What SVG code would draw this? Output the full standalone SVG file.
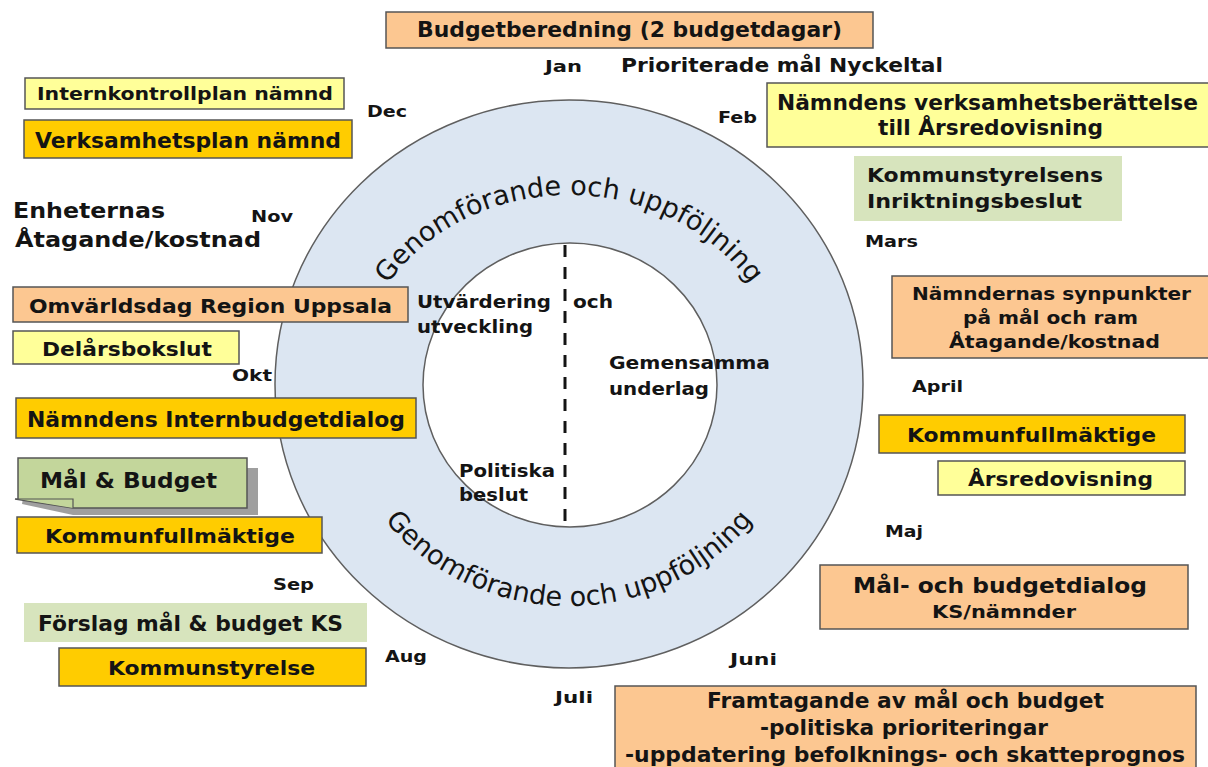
<svg xmlns="http://www.w3.org/2000/svg" width="1208" height="767" viewBox="0 0 1208 767">
<style>
  .t{font-family:"DejaVu Sans","Verdana",sans-serif;font-weight:bold;fill:#141414}
  .ring{font-family:"DejaVu Sans","Verdana",sans-serif;font-weight:normal;fill:#141414;font-size:27px}
  .box{stroke:#555;stroke-width:1.5}
  .or{fill:#FCC791}
  .gd{fill:#FFCC00}
  .ly{fill:#FFFF99}
  .gr{fill:#D7E4BD}
  .m{font-size:16px}
</style>
<defs>
  <path id="arcTop" d="M353,390 A216,195 0 0 1 785,390"/>
  <path id="arcBot" d="M334,380 A235,226 0 0 0 804,380"/>
</defs>
<rect width="1208" height="767" fill="#fff"/>

<g id="wheel">
  <ellipse cx="569" cy="384" rx="294" ry="284" fill="#DCE6F2" stroke="#5f5f5f" stroke-width="1.5"/>
  <ellipse cx="570" cy="385" rx="147" ry="142" fill="#fff" stroke="#5f5f5f" stroke-width="1.5"/>
  <line x1="565" y1="245" x2="565" y2="527" stroke="#141414" stroke-width="3" stroke-dasharray="12 10"/>
  <text class="ring"><textPath href="#arcTop" startOffset="50%" text-anchor="middle">Genomförande och uppföljning</textPath></text>
  <text class="ring"><textPath href="#arcBot" startOffset="50%" text-anchor="middle">Genomförande och uppföljning</textPath></text>
  <g class="t" font-size="17">
    <text x="417" y="308" textLength="134" lengthAdjust="spacingAndGlyphs">Utvärdering</text>
    <text x="417" y="333" textLength="116" lengthAdjust="spacingAndGlyphs">utveckling</text>
    <text x="573" y="308" textLength="40" lengthAdjust="spacingAndGlyphs">och</text>
    <text x="609" y="369" textLength="161" lengthAdjust="spacingAndGlyphs">Gemensamma</text>
    <text x="609" y="395" textLength="100" lengthAdjust="spacingAndGlyphs">underlag</text>
    <text x="459" y="477" textLength="96" lengthAdjust="spacingAndGlyphs">Politiska</text>
    <text x="459" y="501" textLength="69" lengthAdjust="spacingAndGlyphs">beslut</text>
  </g>
</g>

<g id="months" class="t m">
  <text x="545" y="72" textLength="37" lengthAdjust="spacingAndGlyphs">Jan</text>
  <text x="718" y="123" textLength="39" lengthAdjust="spacingAndGlyphs">Feb</text>
  <text x="865" y="247" textLength="53" lengthAdjust="spacingAndGlyphs">Mars</text>
  <text x="912" y="392" textLength="51" lengthAdjust="spacingAndGlyphs">April</text>
  <text x="885" y="537" textLength="38" lengthAdjust="spacingAndGlyphs">Maj</text>
  <text x="730" y="665" textLength="47" lengthAdjust="spacingAndGlyphs">Juni</text>
  <text x="555" y="703" textLength="38" lengthAdjust="spacingAndGlyphs">Juli</text>
  <text x="385" y="662" textLength="42" lengthAdjust="spacingAndGlyphs">Aug</text>
  <text x="273" y="590" textLength="41" lengthAdjust="spacingAndGlyphs">Sep</text>
  <text x="232" y="381" textLength="40" lengthAdjust="spacingAndGlyphs">Okt</text>
  <text x="251" y="222" textLength="42" lengthAdjust="spacingAndGlyphs">Nov</text>
  <text x="367" y="117" textLength="40" lengthAdjust="spacingAndGlyphs">Dec</text>
</g>

<g id="budgetberedning">
  <rect class="box or" x="386" y="12" width="487" height="36"/>
  <text class="t" font-size="21" x="417" y="37" textLength="425" lengthAdjust="spacingAndGlyphs">Budgetberedning (2 budgetdagar)</text>
</g>

<g id="prioriterade">
  <text class="t" font-size="20" x="621" y="72" textLength="322" lengthAdjust="spacingAndGlyphs">Prioriterade mål Nyckeltal</text>
</g>

<g id="internkontrollplan">
  <rect class="box ly" x="25" y="78" width="319" height="31"/>
  <text class="t" font-size="18" x="37" y="100" textLength="296" lengthAdjust="spacingAndGlyphs">Internkontrollplan nämnd</text>
</g>

<g id="verksamhetsplan">
  <rect class="box gd" x="24" y="120" width="328" height="38"/>
  <text class="t" font-size="21" x="35" y="148" textLength="306" lengthAdjust="spacingAndGlyphs">Verksamhetsplan nämnd</text>
</g>

<g id="enheternas">
  <text class="t" font-size="22" x="13" y="218" textLength="152" lengthAdjust="spacingAndGlyphs">Enheternas</text>
  <text class="t" font-size="22" x="15" y="247" textLength="246" lengthAdjust="spacingAndGlyphs">Åtagande/kostnad</text>
</g>

<g id="verksamhetsberattelse">
  <rect class="box ly" x="767" y="83" width="445" height="64"/>
  <text class="t" font-size="21" x="777" y="110" textLength="421" lengthAdjust="spacingAndGlyphs">Nämndens verksamhetsberättelse</text>
  <text class="t" font-size="21" x="878" y="135" textLength="225" lengthAdjust="spacingAndGlyphs">till Årsredovisning</text>
</g>

<g id="inriktningsbeslut">
  <rect class="gr" x="854" y="156" width="268" height="65"/>
  <text class="t" font-size="20" x="867" y="182" textLength="236" lengthAdjust="spacingAndGlyphs">Kommunstyrelsens</text>
  <text class="t" font-size="20" x="867" y="208" textLength="215" lengthAdjust="spacingAndGlyphs">Inriktningsbeslut</text>
</g>

<g id="synpunkter">
  <rect class="box or" x="892" y="276" width="320" height="82"/>
  <text class="t" font-size="17" x="912" y="300" textLength="279" lengthAdjust="spacingAndGlyphs">Nämndernas synpunkter</text>
  <text class="t" font-size="17" x="963" y="324" textLength="175" lengthAdjust="spacingAndGlyphs">på mål och ram</text>
  <text class="t" font-size="17" x="949" y="348" textLength="211" lengthAdjust="spacingAndGlyphs">Åtagande/kostnad</text>
</g>

<g id="kf-april">
  <rect class="box gd" x="879" y="415" width="306" height="38"/>
  <text class="t" font-size="20" x="907" y="442" textLength="249" lengthAdjust="spacingAndGlyphs">Kommunfullmäktige</text>
</g>

<g id="arsredovisning">
  <rect class="box ly" x="938" y="461" width="247" height="34"/>
  <text class="t" font-size="20" x="968" y="486" textLength="185" lengthAdjust="spacingAndGlyphs">Årsredovisning</text>
</g>

<g id="budgetdialog">
  <rect class="box or" x="820" y="565" width="368" height="64"/>
  <text class="t" font-size="21" x="853" y="593" textLength="294" lengthAdjust="spacingAndGlyphs">Mål- och budgetdialog</text>
  <text class="t" font-size="17" x="932" y="618" textLength="144" lengthAdjust="spacingAndGlyphs">KS/nämnder</text>
</g>

<g id="framtagande">
  <rect class="box or" x="615" y="686" width="581" height="90"/>
  <text class="t" font-size="21" x="707" y="708" textLength="397" lengthAdjust="spacingAndGlyphs">Framtagande av mål och budget</text>
  <text class="t" font-size="21" x="760" y="735" textLength="288" lengthAdjust="spacingAndGlyphs">-politiska prioriteringar</text>
  <text class="t" font-size="21" x="625" y="762" textLength="560" lengthAdjust="spacingAndGlyphs">-uppdatering befolknings- och skatteprognos</text>
</g>

<g id="omvarldsdag">
  <rect class="box or" x="13" y="287" width="395" height="35"/>
  <text class="t" font-size="20" x="29" y="313" textLength="363" lengthAdjust="spacingAndGlyphs">Omvärldsdag Region Uppsala</text>
</g>

<g id="delarsbokslut">
  <rect class="box ly" x="13" y="331" width="226" height="33"/>
  <text class="t" font-size="20" x="42" y="356" textLength="170" lengthAdjust="spacingAndGlyphs">Delårsbokslut</text>
</g>

<g id="internbudgetdialog">
  <rect class="box gd" x="16" y="398" width="400" height="40"/>
  <text class="t" font-size="21" x="27" y="427" textLength="378" lengthAdjust="spacingAndGlyphs">Nämndens Internbudgetdialog</text>
</g>

<g id="mal-budget">
  <path d="M28,468 H258 V515 H73 L22,504 Z" fill="#7f7f7f" opacity="0.75"/>
  <path d="M18,458 H247 V508 H73 L15,499 L18,499 Z" fill="#C3D69B" stroke="#555" stroke-width="1.5"/>
  <path d="M18,499 H73 V508" fill="#C3D69B" stroke="#555" stroke-width="1.2"/>
  <text class="t" font-size="22" x="40" y="488" textLength="177" lengthAdjust="spacingAndGlyphs">Mål &amp; Budget</text>
</g>

<g id="kf-sep">
  <rect class="box gd" x="17" y="517" width="305" height="36"/>
  <text class="t" font-size="20" x="45" y="543" textLength="250" lengthAdjust="spacingAndGlyphs">Kommunfullmäktige</text>
</g>

<g id="forslag">
  <rect class="gr" x="24" y="603" width="343" height="39"/>
  <text class="t" font-size="21" x="38" y="631" textLength="305" lengthAdjust="spacingAndGlyphs">Förslag mål &amp; budget KS</text>
</g>

<g id="kommunstyrelse">
  <rect class="box gd" x="59" y="648" width="307" height="38"/>
  <text class="t" font-size="20" x="108" y="675" textLength="207" lengthAdjust="spacingAndGlyphs">Kommunstyrelse</text>
</g>

<g id="connectors"></g>
</svg>
